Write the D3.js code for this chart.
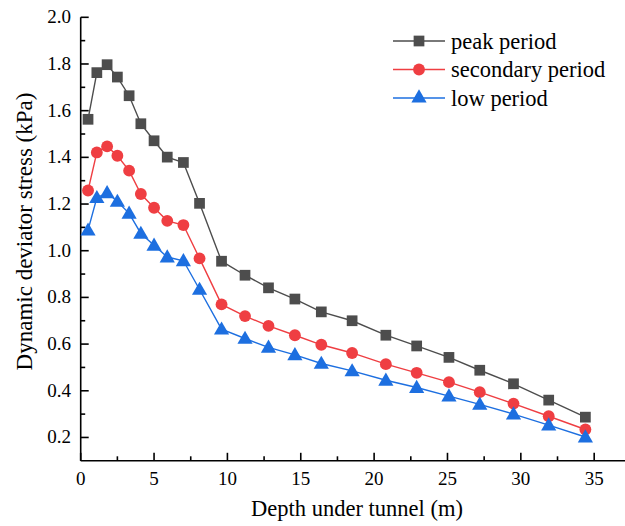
<!DOCTYPE html>
<html><head><meta charset="utf-8">
<script src="https://cdn.jsdelivr.net/npm/d3@7"></script>
<style>body{margin:0;background:#fff}svg{display:block}</style>
</head><body>
<svg id="c" width="625" height="526" style="font-family:'Liberation Serif',serif"></svg>
<script>
const depth = [0.5,1.1,1.8,2.5,3.3,4.1,5.0,5.9,7.0,8.1,9.6,11.2,12.8,14.6,16.4,18.5,20.8,22.9,25.1,27.2,29.5,31.9,34.4];
const peak = [1.563,1.763,1.797,1.744,1.664,1.544,1.471,1.401,1.378,1.203,0.955,0.895,0.841,0.793,0.738,0.700,0.638,0.592,0.543,0.488,0.430,0.360,0.287];
const secondary = [1.258,1.421,1.447,1.407,1.343,1.243,1.184,1.128,1.110,0.967,0.770,0.720,0.678,0.638,0.597,0.562,0.514,0.477,0.437,0.394,0.345,0.291,0.234];
const low = [1.088,1.227,1.248,1.211,1.160,1.074,1.023,0.973,0.957,0.834,0.664,0.624,0.586,0.554,0.517,0.485,0.445,0.414,0.377,0.342,0.300,0.253,0.202];
const seriesNames = ["peak period","secondary period","low period"];
const xTicks = [0,5,10,15,20,25,30,35];
const yTicks = [0.2,0.4,0.6,0.8,1.0,1.2,1.4,1.6,1.8,2.0];
const xLabel = "Depth under tunnel (m)";
const yLabel = "Dynamic deviator stress (kPa)";

const series = [
  {name:seriesNames[0], values:peak, color:"#4d4d4d", symbol:d3.symbolSquare},
  {name:seriesNames[1], values:secondary, color:"#ef3e42", symbol:d3.symbolCircle},
  {name:seriesNames[2], values:low, color:"#1d6fe0", symbol:d3.symbolTriangle}
];
const FF = "'Liberation Serif', serif";
const svg = d3.select("#c");
const L=80.7, R=625, T=17.3, B=460.8;
const x = d3.scaleLinear().domain([0,37.1]).range([L,R]);
const y = d3.scaleLinear().domain([0.1,2.0]).range([B,T]);

// axes
const ax = svg.append("g").attr("stroke","#000").attr("stroke-width",1.6);
ax.append("line").attr("x1",L).attr("x2",R).attr("y1",B).attr("y2",B);
ax.append("line").attr("x1",L).attr("x2",L).attr("y1",T).attr("y2",B);
const xMinor = d3.range(2.5,36,5);
xTicks.forEach(v=>ax.append("line").attr("x1",x(v)).attr("x2",x(v)).attr("y1",B).attr("y2",B-8));
xMinor.forEach(v=>ax.append("line").attr("x1",x(v)).attr("x2",x(v)).attr("y1",B).attr("y2",B-4.5));
const yMinor = d3.range(0.3,2.0,0.2);
yTicks.forEach(v=>ax.append("line").attr("x1",L).attr("x2",L+8).attr("y1",y(v)).attr("y2",y(v)));
yMinor.forEach(v=>ax.append("line").attr("x1",L).attr("x2",L+4.5).attr("y1",y(v)).attr("y2",y(v)));

svg.append("g").attr("font-family",FF).selectAll("text").data(xTicks).join("text").style("font-family",FF)
  .attr("x",d=>x(d)).attr("y",485).attr("text-anchor","middle").attr("font-size",19).text(d=>d);
svg.append("g").attr("font-family",FF).selectAll("text").data(yTicks).join("text").style("font-family",FF)
  .attr("x",71).attr("y",d=>y(d)+6).attr("text-anchor","end").attr("font-size",19).text(d=>d.toFixed(1));

svg.append("text").style("font-family",FF).attr("x",357).attr("y",516).attr("text-anchor","middle").attr("font-size",22.5).text(xLabel);
svg.append("text").style("font-family",FF).attr("transform",`translate(31.5,231.5) rotate(-90)`).attr("text-anchor","middle").attr("font-size",23).text(yLabel);

const line = d3.line().x((d,i)=>x(depth[i])).y(d=>y(d));
function symSize(s){return s.symbol===d3.symbolTriangle?100:(s.symbol===d3.symbolCircle?110:115);}
series.forEach(s=>{
  svg.append("path").attr("d",line(s.values)).attr("fill","none").attr("stroke",s.color).attr("stroke-width",1.4);
  const sym = d3.symbol().type(s.symbol).size(symSize(s));
  svg.append("g").selectAll("path").data(s.values).join("path")
    .attr("d",sym).attr("fill",s.color)
    .attr("transform",(d,i)=>`translate(${x(depth[i])},${y(d)+(s.symbol===d3.symbolTriangle?1:0)})`);
});

// legend
const lg = svg.append("g");
series.forEach((s,i)=>{
  const yy = 41 + i*28.5;
  lg.append("line").attr("x1",393).attr("x2",445).attr("y1",yy).attr("y2",yy).attr("stroke",s.color).attr("stroke-width",1.4);
  lg.append("path").attr("d",d3.symbol().type(s.symbol).size(symSize(s))).attr("fill",s.color).attr("transform",`translate(419,${yy})`);
  lg.append("text").style("font-family",FF).attr("x",451).attr("y",yy+7.5).attr("font-size",22.5).text(s.name);
});
</script>
</body></html>
